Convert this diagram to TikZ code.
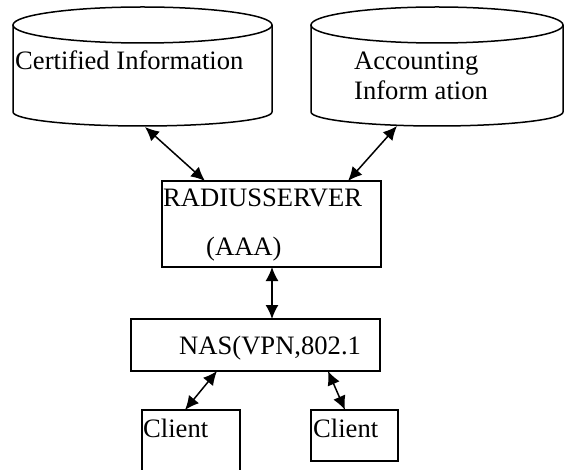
\documentclass[tikz,border=0pt]{standalone}
\usepackage{fontspec}
\setmainfont{Liberation Serif}
\usetikzlibrary{arrows.meta,calc}
\begin{document}
\begin{tikzpicture}[x=1pt,y=1pt,
 lbl/.style={anchor=base west,inner sep=0pt,font=\fontsize{26.6}{30}\selectfont},
 box/.style={draw,line width=1.5pt,anchor=north west,inner sep=0pt,outer sep=0pt},
 link/.style={{Latex[length=14pt,width=13pt]}-{Latex[length=14pt,width=13pt]},line width=1.5pt},
 cyl/.style={line width=1.5pt}]
\useasboundingbox (0,0) rectangle (564,-470);
\clip (0,0) rectangle (564,-470);
% databases
\draw[cyl] (142.5,-25) ellipse [x radius=129.5, y radius=18];
\draw[cyl] (13,-25) -- (13,-112) arc[start angle=180,end angle=360,x radius=129.5,y radius=14] -- (272,-25);
\coordinate (db1) at (145,-127);
\draw[cyl] (437,-25) ellipse [x radius=126, y radius=18];
\draw[cyl] (311,-25) -- (311,-112) arc[start angle=180,end angle=360,x radius=126,y radius=14] -- (563,-25);
\coordinate (db2) at (397,-126);
\node[lbl] (cert) at (15,-70) {Certified Information};
\node[lbl] (acc1) at (354,-70) {Accounting};
\node[lbl] (acc2) at (354,-100) {Inform ation};
% boxes
\node[box,minimum width=219pt,minimum height=86pt] (radius) at (162,-181) {};
\node[box,minimum width=249pt,minimum height=52pt] (nas) at (131,-319) {};
\node[box,minimum width=98pt,minimum height=80pt] (cl1box) at (142,-410) {};
\node[box,minimum width=87pt,minimum height=51pt] (cl2box) at (311,-410) {};
\node[lbl] (rad) at (163,-207) {RADIUSSERVER};
\node[lbl] (aaa) at (206,-255) {(AAA)};
\node[lbl] (nastxt) at (179,-354) {NAS(VPN,802.1};
\node[lbl] (cl1) at (143,-437) {Client};
\node[lbl] (cl2) at (313,-437) {Client};
% connectors
\draw[link] (db1) -- ($(radius.north west)+(43,0)$);
\draw[link] (db2) -- ($(radius.north west)+(186,0)$);
\draw[link] ($(radius.south west)+(110,0)$) -- ($(nas.north west)+(141,0)$);
\draw[link] ($(nas.south west)+(86,0)$) -- ($(cl1box.north west)+(43,0)$);
\draw[link] ($(nas.south west)+(197,0)$) -- ($(cl2box.north west)+(34,0)$);
\end{tikzpicture}
\end{document}
